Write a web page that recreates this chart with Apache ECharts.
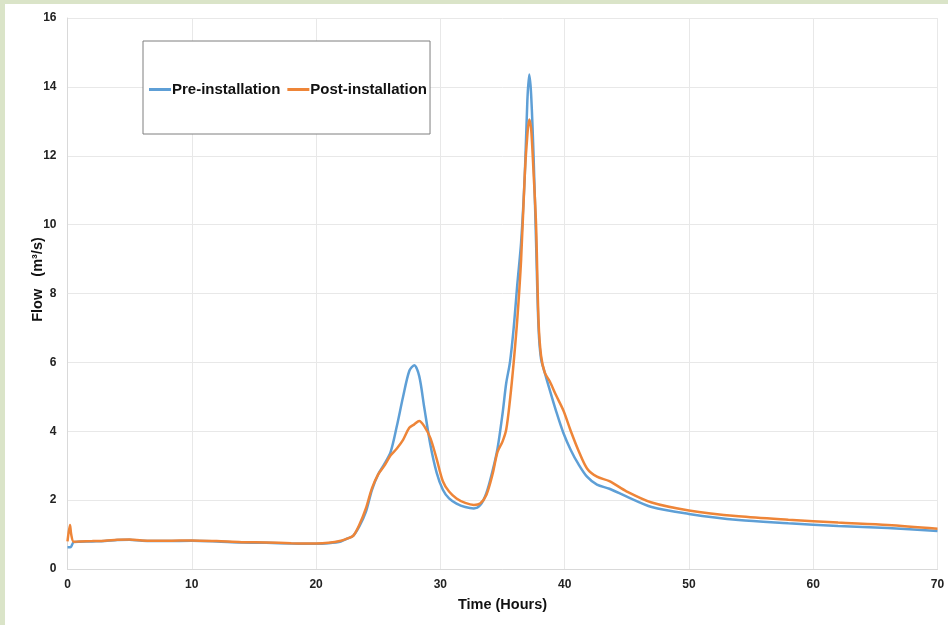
<!DOCTYPE html>
<html>
<head>
<meta charset="utf-8">
<script src="https://cdn.jsdelivr.net/npm/echarts@6/dist/echarts.min.js"></script>
<style>
  html, body { margin: 0; padding: 0; width: 948px; height: 625px; background: #dae4c8; overflow: hidden; }
  #chart { position: absolute; left: 5px; top: 4px; width: 943px; height: 621px; background: #ffffff; }
</style>
</head>
<body>
<div id="chart"></div>
<script>
// Time (hours)
const times = [0, 0.2, 0.3, 0.5, 1, 2, 3, 4, 5, 6, 8, 10, 12, 14, 16, 18, 20, 21, 22, 22.5,
  23, 23.5, 24, 24.5, 25, 25.5, 26, 26.5, 27, 27.5, 27.9, 28.3, 28.7, 29.2, 29.7, 30.2, 30.7,
  31.3, 32, 32.7, 33.2, 33.7, 34.2, 34.6, 35, 35.3, 35.6, 35.9, 36.2, 36.5, 36.8, 37.0, 37.15,
  37.3, 37.5, 37.7, 37.9, 38.1, 38.4, 38.8, 39.3, 39.9, 40.5, 41.1, 41.8, 42.6, 43.6, 45, 47,
  50, 54, 58, 62, 66, 70];
// Flow (m3/s)
const preInstallation = [0.63, 0.63, 0.65, 0.78, 0.79, 0.80, 0.81, 0.84, 0.85, 0.82, 0.81, 0.82,
  0.80, 0.77, 0.76, 0.74, 0.73, 0.75, 0.80, 0.88, 0.97, 1.25, 1.65, 2.3, 2.75, 3.05, 3.4, 4.15,
  5.0, 5.75, 5.92, 5.6, 4.7, 3.6, 2.8, 2.3, 2.05, 1.9, 1.8, 1.76, 1.85, 2.2, 2.85, 3.5, 4.5,
  5.4, 6.0, 7.0, 8.3, 9.5, 11.5, 13.6, 14.36, 13.8, 12.0, 9.5, 7.0, 6.1, 5.7, 5.2, 4.6, 3.95,
  3.45, 3.05, 2.68, 2.45, 2.33, 2.1, 1.8, 1.6, 1.42, 1.33, 1.25, 1.19, 1.1];
const postInstallation = [0.8, 1.28, 1.0, 0.79, 0.80, 0.81, 0.82, 0.85, 0.86, 0.83, 0.82, 0.83,
  0.81, 0.78, 0.77, 0.75, 0.74, 0.76, 0.82, 0.88, 0.97, 1.3, 1.75, 2.35, 2.75, 3.0, 3.3, 3.5,
  3.75, 4.1, 4.2, 4.3, 4.15, 3.8, 3.2, 2.55, 2.25, 2.05, 1.92, 1.86, 1.9, 2.15, 2.75, 3.4, 3.7,
  4.05, 4.9, 6.0, 7.3, 9.0, 11.5, 12.6, 13.05, 12.8, 11.5, 10.0, 7.2, 6.2, 5.7, 5.45, 5.05, 4.6,
  4.0, 3.45, 2.92, 2.68, 2.55, 2.25, 1.93, 1.7, 1.53, 1.43, 1.35, 1.28, 1.17];
const seriesNames = ['Pre-installation', 'Post-installation'];
const xTicks = [0, 70, 10];   // min, max, interval
const yTicks = [0, 16, 2];

const chart = echarts.init(document.getElementById('chart'), null, { renderer: 'canvas' });
const font = 'Arial, "Liberation Sans", sans-serif';
const pair = (vals) => times.map((t, i) => [t, vals[i]]);

chart.setOption({
  animation: false,
  backgroundColor: '#ffffff',
  grid: { left: 62.5, right: 10.5, top: 14, bottom: 56, containLabel: false },
  legend: {
    left: 138, top: 37,
    padding: [40, 3, 36, 6],
    itemGap: 7,
    itemWidth: 22, itemHeight: 3,
    borderColor: '#7f7f7f', borderWidth: 1,
    backgroundColor: '#ffffff',
    textStyle: { fontFamily: font, fontWeight: 'bold', fontSize: 15, color: '#111', padding: [0, 0, 0, -4], lineHeight: 17 },
    data: seriesNames.map(n => ({ name: n, icon: 'rect' })),
  },
  xAxis: {
    type: 'value', min: xTicks[0], max: xTicks[1], interval: xTicks[2],
    name: 'Time (Hours)', nameLocation: 'middle', nameGap: 28, nameMoveOverlap: false,
    nameTextStyle: { fontFamily: font, fontWeight: 'bold', fontSize: 14.5, color: '#111' },
    axisLine: { show: true, lineStyle: { color: '#d9d9d9', width: 1 } },
    axisTick: { show: false },
    axisLabel: { fontFamily: font, fontWeight: 'bold', fontSize: 12, color: '#222', margin: 10 },
    splitLine: { show: true, lineStyle: { color: '#e8e8e8', width: 1 } },
  },
  yAxis: {
    type: 'value', min: yTicks[0], max: yTicks[1], interval: yTicks[2],
    name: 'Flow   (m\u00b3/s)', nameLocation: 'middle', nameGap: 22, nameMoveOverlap: false,
    nameTextStyle: { fontFamily: font, fontWeight: 'bold', fontSize: 14.5, color: '#111', padding: [0, 0, 0, 28] },
    axisLine: { show: true, lineStyle: { color: '#d9d9d9', width: 1 } },
    axisTick: { show: false },
    axisLabel: { fontFamily: font, fontWeight: 'bold', fontSize: 12, color: '#222', margin: 11 },
    splitLine: { show: true, lineStyle: { color: '#e8e8e8', width: 1 } },
  },
  series: [
    {
      name: seriesNames[0], type: 'line', data: pair(preInstallation),
      showSymbol: false, smooth: 0.3,
      lineStyle: { color: '#5e9fd6', width: 2.5 }, itemStyle: { color: '#5e9fd6' },
      z: 2,
    },
    {
      name: seriesNames[1], type: 'line', data: pair(postInstallation),
      showSymbol: false, smooth: 0.3,
      lineStyle: { color: '#ee8538', width: 2.5 }, itemStyle: { color: '#ee8538' },
      z: 3,
    },
  ],
});
</script>
</body>
</html>
